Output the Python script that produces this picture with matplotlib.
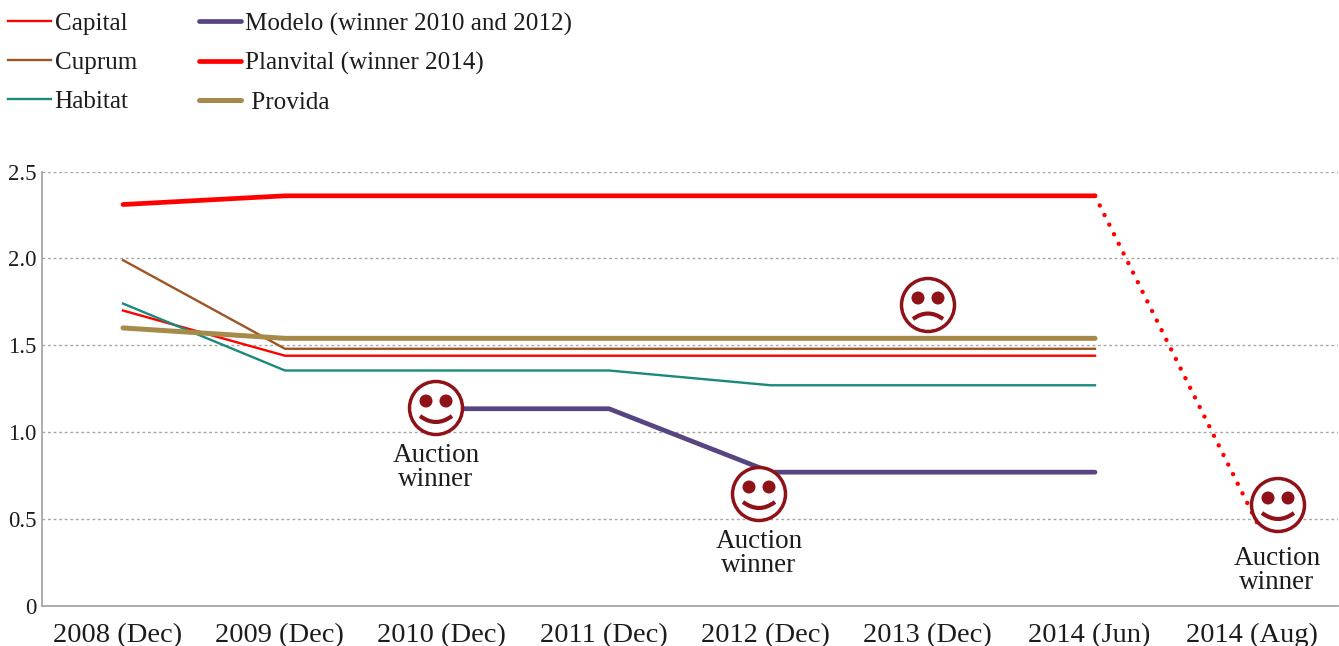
import matplotlib
matplotlib.use("Agg")
import matplotlib.pyplot as plt
from matplotlib.patches import Circle, PathPatch
from matplotlib.path import Path
from matplotlib.transforms import ScaledTranslation
import numpy as np

plt.rcParams['font.family'] = ['Liberation Serif', 'DejaVu Serif']

# Data
#---------------------------
periods = ["2008 (Dec)", "2009 (Dec)", "2010 (Dec)", "2011 (Dec)",
           "2012 (Dec)", "2013 (Dec)", "2014 (Jun)", "2014 (Aug)"]
capital = [1.70, 1.44, 1.44, 1.44, 1.44, 1.44, 1.44, np.nan]
cuprum = [1.99, 1.48, 1.48, 1.48, 1.48, 1.48, 1.48, np.nan]
habitat = [1.74, 1.355, 1.355, 1.355, 1.27, 1.27, 1.27, np.nan]
modelo = [np.nan, np.nan, 1.135, 1.135, 0.77, 0.77, 0.77, np.nan]
planvital = [2.31, 2.36, 2.36, 2.36, 2.36, 2.36, 2.36, 0.48]
provida = [1.60, 1.54, 1.54, 1.54, 1.54, 1.54, 1.54, np.nan]
y_ticks = [0, 0.5, 1.0, 1.5, 2.0, 2.5]
y_tick_labels = ["0", "0.5", "1.0", "1.5", "2.0", "2.5"]

RED = "#ff0000"
FACE = "#8e1218"
INK = "#1c1c1c"
W, H = 1339, 646

fig = plt.figure(figsize=[W / 100, H / 100], dpi=100)

# Main axes
#---------------------------
ax = fig.add_axes([42 / W, 1 - 606 / H, (1338 - 42) / W, (606 - 171.5) / H])
x = np.arange(len(periods))
ax.plot(x, capital, color=RED, lw=1.7, label="Capital")
ax.plot(x, cuprum, color="#9c5523", lw=1.7, label="Cuprum")
ax.plot(x, habitat, color="#1a8a7a", lw=1.7, label="Habitat")
ax.plot(x, modelo, color="#584480", lw=3.4, solid_capstyle='round',
        label="Modelo (winner 2010 and 2012)")
ax.plot(x[:7], planvital[:7], color=RED, lw=3.4, solid_capstyle='round',
        label="Planvital (winner 2014)")
ax.plot(x[6:], planvital[6:], color=RED, lw=3.2, dash_capstyle='round',
        linestyle=(0, (0.01, 2.4)))
ax.plot(x, provida, color="#a68a4a", lw=3.6, solid_capstyle='round', label=" Provida")

ax.set_xlim(-0.5, 7.5)
ax.set_ylim(0, 2.5)
ax.set_xticks(x)
ax.set_xticklabels(periods)
ax.set_yticks(y_ticks)
ax.set_yticklabels(y_tick_labels)
ax.tick_params(length=0, labelcolor=INK)
ax.tick_params(axis='x', pad=12, labelsize=20.5)
ax.tick_params(axis='y', pad=4, labelsize=16.5)
ax.grid(axis='y', color="#a6a6a6", lw=1.0, linestyle=(0, (2, 2)))
ax.set_axisbelow(True)
ax.spines['top'].set_visible(False)
ax.spines['right'].set_visible(False)
ax.spines['left'].set_color("#a6a6a6")
ax.spines['bottom'].set_color("#a6a6a6")
ax.spines['left'].set_linewidth(1.3)
ax.spines['bottom'].set_linewidth(1.3)

# The period labels sit a little left of their points
shift = ScaledTranslation(-5.5 / 100, 0, fig.dpi_scale_trans)
for lab in ax.get_xticklabels():
    lab.set_transform(lab.get_transform() + shift)

handles, labels = ax.get_legend_handles_labels()
fig.legend(handles, labels, ncol=2, frameon=False, fontsize=18.1, labelcolor=INK,
           loc='upper left', bbox_to_anchor=(-4.5 / W, 1.0), borderaxespad=0, borderpad=0.5,
           handlelength=1.7, handletextpad=0.15, columnspacing=2.46, labelspacing=0.65)

# Overlay in pixels for the faces and their captions
#---------------------------
over = fig.add_axes([0, 0, 1, 1])
over.set_xlim(0, W)
over.set_ylim(H, 0)
over.axis('off')

def draw_face(cx, cy, happy=True):
    over.add_patch(Circle((cx, cy), 26.5, facecolor="white", edgecolor=FACE, lw=2.5))
    for dx in [-10, 10]:
        over.add_patch(Circle((cx + dx, cy - 7), 6.5, facecolor=FACE, edgecolor="none"))
    if happy:
        verts = [(cx - 16, cy + 8), (cx, cy + 20), (cx + 16, cy + 8)]
    else:
        verts = [(cx - 15, cy + 14), (cx, cy + 3), (cx + 15, cy + 14)]
    mouth = Path(verts, [Path.MOVETO, Path.CURVE3, Path.CURVE3])
    over.add_patch(PathPatch(mouth, facecolor="none", edgecolor=FACE, lw=3.0))

def draw_caption(cx, cy):
    over.text(cx, cy, "Auction\nwinner", ha='center', va='center', ma='center',
              fontsize=19.5, color=INK, linespacing=0.92)

draw_face(436, 408)
draw_face(759, 494)
draw_face(1278, 505)
draw_face(928, 305, happy=False)
draw_caption(436, 467.5)
draw_caption(759, 553.5)
draw_caption(1277, 570.5)

plt.savefig("out.png", dpi=100)
